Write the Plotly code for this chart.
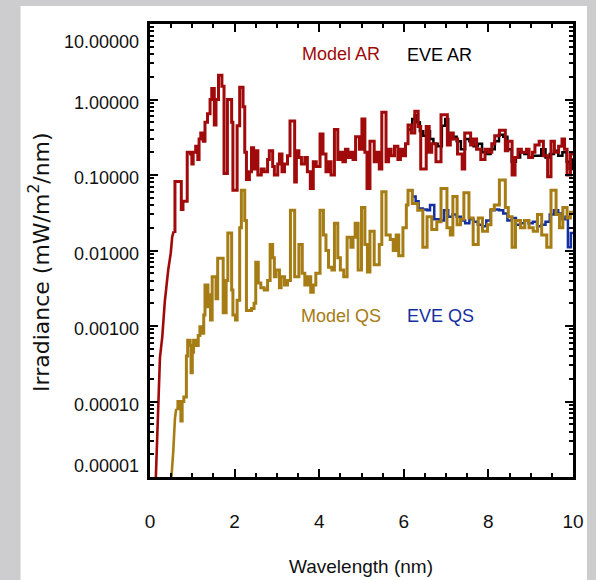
import math
import plotly.graph_objects as go

# ---- Model AR spectrum: smooth short-wavelength rise, then binned steps ----
ar_rise_wave = [0.12, 0.14, 0.17, 0.20, 0.235, 0.29, 0.35, 0.43, 0.49, 0.525, 0.56]
ar_rise_flux = [5e-6, 1.2e-5, 3.5e-5, 1.05e-4, 3.8e-4, 7.2e-4, 2.1e-3, 5.5e-3, 9.2e-3, 0.0152, 0.0179]

ar_wave = [0.56, 0.59, 0.74, 0.78, 0.88, 0.96, 0.99, 1.02, 1.08, 1.13, 1.16, 1.20, 1.26, 1.30, 1.36,
           1.42, 1.46, 1.52, 1.56, 1.62, 1.70, 1.75, 1.83, 1.93, 1.96, 2.06, 2.12, 2.20, 2.24,
           2.28, 2.35, 2.40, 2.45, 2.49, 2.55, 2.63, 2.70, 2.78, 2.82, 2.90, 2.94, 3.02, 3.06,
           3.12, 3.18, 3.25, 3.31, 3.42, 3.46, 3.52, 3.58, 3.66, 3.72, 3.79, 3.86, 3.93, 4.02,
           4.09, 4.16, 4.22, 4.28, 4.36, 4.44, 4.50, 4.56, 4.62, 4.68, 4.74, 4.80, 4.86, 4.95,
           5.01, 5.08, 5.13, 5.20, 5.30, 5.36, 5.42, 5.48, 5.58, 5.64, 5.70, 5.78, 5.86, 5.92,
           5.98, 6.04, 6.10, 6.18, 6.26, 6.34, 6.40, 6.53, 6.60, 6.66, 6.76, 6.88, 7.03, 7.10,
           7.17, 7.27, 7.38, 7.44, 7.58, 7.64, 7.72, 7.82, 7.92, 8.00, 8.08, 8.15, 8.26, 8.40,
           8.46, 8.56, 8.63, 8.70, 8.78, 8.90, 8.96, 9.04, 9.10, 9.20, 9.30, 9.40, 9.48, 9.56,
           9.66, 9.74, 9.80, 9.86, 9.94, 10.0]
ar_flux = [0.0179, 0.082, 0.035, 0.045, 0.20, 0.19, 0.14, 0.20, 0.24, 0.16, 0.30, 0.36, 0.28, 0.50, 0.65,
           1.0, 1.4, 0.46, 1.0, 2.1, 1.5, 0.105, 1.0, 0.5, 0.063, 0.45, 1.45, 0.8, 0.2,
           0.087, 0.11, 0.23, 0.12, 0.21, 0.10, 0.12, 0.11, 0.16, 0.21, 0.13, 0.10, 0.14, 0.19,
           0.11, 0.14, 0.18, 0.52, 0.081, 0.21, 0.17, 0.14, 0.17, 0.11, 0.066, 0.15, 0.13, 0.35,
           0.19, 0.11, 0.15, 0.10, 0.40, 0.16, 0.20, 0.15, 0.22, 0.17, 0.20, 0.16, 0.32, 0.22,
           0.55, 0.20, 0.066, 0.28, 0.15, 0.20, 0.12, 0.68, 0.15, 0.22, 0.18, 0.24, 0.16, 0.22,
           0.18, 0.26, 0.46, 0.36, 0.70, 0.44, 0.12, 0.44, 0.20, 0.26, 0.15, 0.63, 0.25, 0.36,
           0.30, 0.19, 0.12, 0.36, 0.25, 0.30, 0.22, 0.16, 0.22, 0.20, 0.26, 0.33, 0.39, 0.21,
           0.28, 0.10, 0.17, 0.22, 0.20, 0.22, 0.17, 0.20, 0.25, 0.28, 0.18, 0.095, 0.28, 0.20,
           0.24, 0.30, 0.22, 0.10, 0.19, 0.19]

# ---- EVE AR observation ----
eve_ar_wave = [6.12, 6.20, 6.26, 6.32, 6.38, 6.46, 6.55, 6.62, 6.70, 6.80, 6.90, 6.98, 7.05, 7.15,
               7.25, 7.35, 7.45, 7.55, 7.65, 7.75, 7.85, 7.95, 8.05, 8.15, 8.25, 8.35, 8.45, 8.55,
               8.65, 8.75, 8.85, 8.95, 9.05, 9.15, 9.25, 9.35, 9.45, 9.55, 9.65, 9.75, 9.85, 9.92,
               9.98, 10.0]
eve_ar_flux = [0.40, 0.55, 0.62, 0.50, 0.38, 0.33, 0.38, 0.30, 0.26, 0.24, 0.45, 0.55, 0.30, 0.32,
               0.28, 0.22, 0.30, 0.28, 0.24, 0.26, 0.20, 0.19, 0.22, 0.28, 0.34, 0.32, 0.22, 0.15,
               0.17, 0.20, 0.19, 0.17, 0.18, 0.18, 0.22, 0.17, 0.19, 0.21, 0.18, 0.20, 0.15, 0.12,
               0.16, 0.16]

# ---- Model QS spectrum ----
qs_rise_wave = [0.47, 0.51, 0.55, 0.59, 0.62]
qs_rise_flux = [5e-6, 1e-5, 2.2e-5, 6e-5, 8e-5]

qs_wave = [0.62, 0.66, 0.73, 0.76, 0.80, 0.86, 0.89, 0.95, 0.97, 1.00, 1.03, 1.10, 1.14, 1.18,
           1.24, 1.27, 1.30, 1.37, 1.40, 1.43, 1.47, 1.56, 1.60, 1.73, 1.80, 1.84, 1.93, 1.96,
           2.02, 2.06, 2.12, 2.16, 2.24, 2.28, 2.40, 2.46, 2.50, 2.56, 2.62, 2.70, 2.78, 2.84,
           2.90, 2.94, 2.98, 3.06, 3.10, 3.18, 3.25, 3.32, 3.42, 3.47, 3.52, 3.60, 3.66, 3.73,
           3.80, 3.86, 3.92, 4.02, 4.10, 4.16, 4.22, 4.30, 4.36, 4.44, 4.50, 4.58, 4.66, 4.75,
           4.80, 4.85, 4.92, 5.00, 5.08, 5.14, 5.20, 5.30, 5.42, 5.48, 5.58, 5.68, 5.75, 5.82,
           5.88, 5.98, 6.06, 6.10, 6.20, 6.33, 6.45, 6.55, 6.66, 6.78, 6.88, 7.02, 7.10, 7.16,
           7.26, 7.34, 7.42, 7.54, 7.64, 7.76, 7.86, 7.98, 8.06, 8.14, 8.26, 8.40, 8.47, 8.56,
           8.64, 8.76, 8.86, 8.96, 9.06, 9.16, 9.26, 9.38, 9.48, 9.60, 9.68, 9.76, 9.86, 9.94,
           10.0]
qs_flux = [8.0e-5, 1.0e-4, 5.5e-5, 1.0e-4, 1.15e-4, 4e-4, 6.5e-4, 5.5e-4, 2.4e-4, 4.5e-4, 6.5e-4,
           5.5e-4, 7.5e-4, 9.8e-4, 8e-4, 1.4e-3, 3.5e-3, 1.8e-3, 2.6e-3, 1.2e-3, 4.5e-3, 2.3e-3,
           7.9e-3, 1.5e-3, 4e-3, 0.017, 3e-3, 1.4e-3, 1.2e-3, 2.2e-3, 0.02, 0.063, 0.025, 1.6e-3,
           1.7e-3, 2.0e-3, 7.0e-3, 3.7e-3, 3.2e-3, 3.0e-3, 4.0e-3, 0.012, 8e-3, 4.5e-3, 5.5e-3,
           3.2e-3, 4.5e-3, 3.5e-3, 4.0e-3, 0.034, 4.5e-3, 4.5e-3, 0.012, 5e-3, 3.5e-3, 4.5e-3,
           2.8e-3, 3.5e-3, 5e-3, 0.034, 0.016, 0.01, 6e-3, 5.5e-3, 0.023, 8e-3, 5.5e-3, 4.5e-3,
           0.015, 0.011, 0.015, 0.023, 5.5e-3, 0.037, 0.012, 5.2e-3, 0.018, 6.5e-3, 0.012, 0.06,
           0.016, 0.014, 0.01, 0.016, 8.5e-3, 0.02, 0.04, 0.063, 0.042, 0.034, 0.011, 0.028,
           0.019, 0.024, 0.066, 0.02, 0.016, 0.052, 0.022, 0.026, 0.058, 0.027, 0.012, 0.027,
           0.018, 0.022, 0.035, 0.04, 0.086, 0.037, 0.028, 0.011, 0.025, 0.02, 0.025, 0.02,
           0.018, 0.03, 0.016, 0.011, 0.063, 0.03, 0.02, 0.037, 0.027, 0.032, 0.032]

# ---- EVE QS observation ----
eve_qs_wave = [6.12, 6.20, 6.28, 6.35, 6.45, 6.55, 6.62, 6.72, 6.85, 6.95, 7.05, 7.15, 7.25, 7.35,
               7.45, 7.55, 7.65, 7.75, 7.85, 7.95, 8.05, 8.15, 8.25, 8.35, 8.45, 8.55, 8.65, 8.75,
               8.85, 8.95, 9.05, 9.15, 9.25, 9.35, 9.45, 9.55, 9.65, 9.75, 9.82, 9.88, 9.95, 10.0]
eve_qs_flux = [0.063, 0.052, 0.045, 0.036, 0.035, 0.034, 0.040, 0.026, 0.025, 0.034, 0.028, 0.030,
               0.028, 0.025, 0.023, 0.026, 0.024, 0.022, 0.021, 0.025, 0.034, 0.035, 0.034, 0.031,
               0.025, 0.027, 0.022, 0.023, 0.025, 0.023, 0.024, 0.021, 0.022, 0.024, 0.030, 0.034,
               0.031, 0.026, 0.028, 0.011, 0.017, 0.017]

# ---- Axis labelling ----
ytick_vals = [1e-5, 1e-4, 1e-3, 1e-2, 1e-1, 1, 10]
ytick_text = ["0.00001", "0.00010", "0.00100", "0.01000", "0.10000", "1.00000", "10.00000"]
ytick_shift = [11, -3, -3, -3, -3, -3, -18]   # label offsets (px) relative to each tick
xtick_vals = [0, 2, 4, 6, 8, 10]

RED = "#A00A0A"
GOLD = "#A67C14"
BLUE = "#1430A0"
BLACK = "#000000"
TXT = "#111111"
FONT = "Liberation Sans, Arial, sans-serif"
TITLE_FONT = "DejaVu Sans, Liberation Sans, sans-serif"

fig = go.Figure()


def step_trace(w, f, color, width=3.0, shape="hv"):
    return go.Scatter(x=w, y=f, mode="lines", line=dict(color=color, width=width, shape=shape),
                      showlegend=False, hoverinfo="skip")


fig.add_trace(step_trace(eve_ar_wave, eve_ar_flux, BLACK, 2.5))
fig.add_trace(step_trace(ar_rise_wave, ar_rise_flux, RED, 2.6, "linear"))
fig.add_trace(step_trace(ar_wave, ar_flux, RED))
fig.add_trace(step_trace(eve_qs_wave, eve_qs_flux, BLUE, 2.5))
fig.add_trace(step_trace(qs_rise_wave, qs_rise_flux, GOLD, 2.6, "linear"))
fig.add_trace(step_trace(qs_wave, qs_flux, GOLD))

minor_y = [k * 10.0 ** d for d in range(-5, 1) for k in range(2, 10)]

fig.update_xaxes(range=[0, 10], tickvals=xtick_vals, ticks="inside", ticklen=8, tickwidth=2,
                 tickcolor=BLACK, showline=True, linecolor=BLACK, linewidth=2.5, mirror="ticks",
                 showgrid=False, zeroline=False, ticklabelstandoff=25,
                 tickfont=dict(family=FONT, size=19, color=TXT),
                 minor=dict(dtick=0.5, ticks="inside", ticklen=4, tickwidth=2, tickcolor=BLACK,
                            showgrid=False))
fig.update_yaxes(type="log", range=[-5, 1], tickvals=ytick_vals, ticks="inside", ticklen=8,
                 tickwidth=2, tickcolor=BLACK, showline=True, linecolor=BLACK, linewidth=2.5,
                 mirror="ticks", showgrid=False, zeroline=False, showticklabels=False,
                 minor=dict(tickvals=minor_y, ticks="inside", ticklen=4, tickwidth=1.5,
                            tickcolor=BLACK, showgrid=False))

annotations = []
for v, t, s in zip(ytick_vals, ytick_text, ytick_shift):
    annotations.append(dict(x=-0.021, xref="paper", y=math.log10(v), yref="y", text=t,
                            xanchor="right", yanchor="middle", yshift=s, showarrow=False,
                            font=dict(family=FONT, size=18, color=TXT)))


def label(x, y, text, color, anchor="left", size=18, family=FONT, angle=0):
    return dict(x=x, y=y, xref="paper", yref="paper", text=text, xanchor=anchor,
                yanchor="middle", textangle=angle, showarrow=False,
                font=dict(family=family, size=size, color=color))


annotations += [
    label(-0.262, 0.475, "Irradiance (mW/m<sup>2</sup>/nm)", TXT, "center", 22, TITLE_FONT, -90),
    label(0.499, -0.1965, "Wavelength (nm)", TXT, "center", 19),
    label(0.355, 0.934, "Model AR", RED),
    label(0.604, 0.931, "EVE AR", BLACK),
    label(0.353, 0.355, "Model QS", GOLD),
    label(0.604, 0.355, "EVE QS", BLUE),
]

# light slide frame around a white panel
shapes = [dict(type="rect", xref="paper", yref="paper", x0=-0.306, x1=1.033, y0=-0.23, y1=1.0397,
               fillcolor="white", line=dict(width=0), layer="below")]

fig.update_layout(width=596, height=580, margin=dict(l=150, r=21, t=24, b=103),
                  paper_bgcolor="#cdcdcf", plot_bgcolor="white",
                  annotations=annotations, shapes=shapes, showlegend=False)

fig.write_html("out.html")
